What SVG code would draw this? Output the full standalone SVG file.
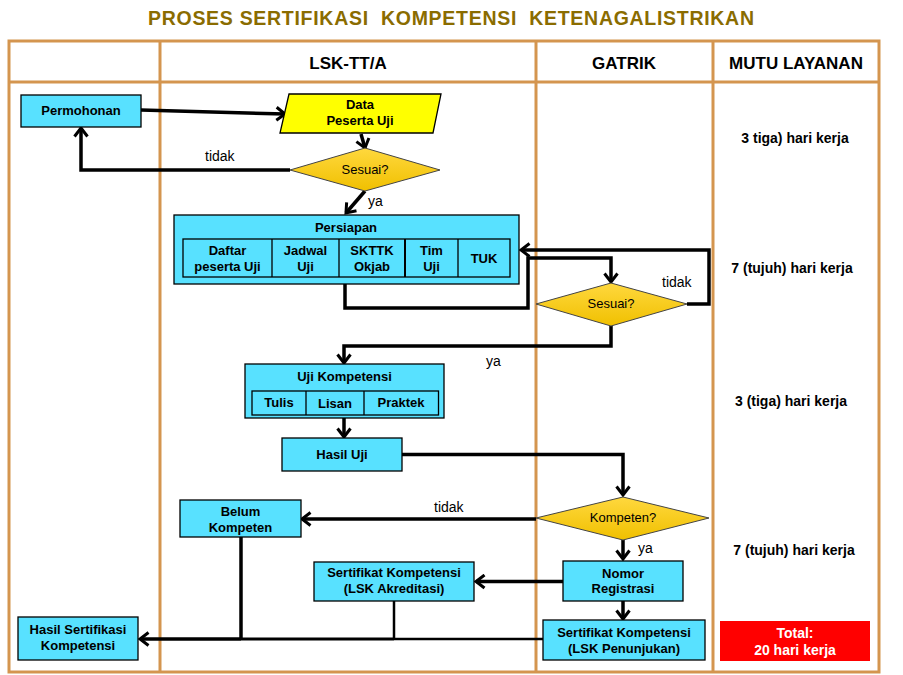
<svg xmlns="http://www.w3.org/2000/svg" width="903" height="675" viewBox="0 0 903 675">
<defs>
<linearGradient id="gold" x1="0" y1="0" x2="0" y2="1"><stop offset="0" stop-color="#FFD83E"/><stop offset="1" stop-color="#F0C000"/></linearGradient>
<marker id="arr" markerUnits="userSpaceOnUse" markerWidth="16" markerHeight="16" viewBox="0 0 16 16" refX="13" refY="8" orient="auto"><path d="M4.5,1.5 L13,8 L4.5,14.5" fill="none" stroke="#000" stroke-width="3"/></marker>
<style>
text{font-family:"Liberation Sans",Arial,sans-serif;fill:#000}
.b{font-weight:bold;font-size:13px;text-anchor:middle}
.box{fill:#58E1FF;stroke:#000;stroke-width:1.3}
.cell{fill:none;stroke:#000;stroke-width:1.3}
.dia{fill:url(#gold);stroke:#444;stroke-width:1}
.lane{fill:none;stroke:#D4954F;stroke-width:3}
.c{fill:none;stroke:#000;stroke-width:3.5}
.ca{fill:none;stroke:#000;stroke-width:3.5;marker-end:url(#arr)}
.lbl{font-size:14px}
.dl{font-size:13px;text-anchor:middle}
.mutu{font-weight:bold;font-size:14px;text-anchor:middle}
.hdr{font-weight:bold;font-size:17px;text-anchor:middle}
</style>
</defs>
<rect width="903" height="675" fill="#fff"/>
<text x="451" y="25" text-anchor="middle" font-weight="bold" font-size="19.5" style="fill:#8A6C00;white-space:pre" xml:space="preserve" textLength="606" lengthAdjust="spacing">PROSES SERTIFIKASI  KOMPETENSI  KETENAGALISTRIKAN</text>
<g id="lanes">
<rect class="lane" x="9" y="41" width="870" height="631"/>
<line class="lane" x1="9" y1="82" x2="879" y2="82"/>
<line class="lane" x1="160" y1="41" x2="160" y2="672"/>
<line class="lane" x1="536" y1="41" x2="536" y2="672"/>
<line class="lane" x1="713" y1="41" x2="713" y2="672"/>
<text class="hdr" x="348" y="69">LSK-TT/A</text>
<text class="hdr" x="624" y="69">GATRIK</text>
<text class="hdr" x="796" y="69">MUTU LAYANAN</text>
</g>
<g id="connectors">
<path class="ca" d="M141,110 L285,114"/>
<path class="ca" d="M361,134 L365,148"/>
<path class="ca" d="M290,170 H81 V128"/>
<path class="ca" d="M365,191 L346,213"/>
<path class="ca" d="M345,284 V308 H528 V258 H611 V282"/>
<path class="ca" d="M687,304 H709 V250 H521"/>
<path class="ca" d="M611,326 V346 H344 V363"/>
<path class="ca" d="M344,418 V437"/>
<path class="ca" d="M402,454.5 H623 V495"/>
<path class="ca" d="M536,519 H302"/>
<path class="ca" d="M623,540 V559"/>
<path class="ca" d="M563,581.5 H476"/>
<path class="ca" d="M623,601 V619"/>
<path class="c" d="M241,537 V639"/>
<path class="c" style="stroke-width:2.5" d="M394,601 V639"/>
<path class="c" style="stroke-width:2.5" d="M543,639 H394"/>
<path class="c" style="stroke-width:3" d="M394,639 H241"/>
<path class="ca" d="M241,639 H140"/>
<text class="lbl" x="205" y="161">tidak</text>
<text class="lbl" x="368" y="206">ya</text>
<text class="lbl" x="662" y="287">tidak</text>
<text class="lbl" x="486" y="366">ya</text>
<text class="lbl" x="434" y="512">tidak</text>
<text class="lbl" x="638" y="553">ya</text>
</g>
<g id="permohonan">
<rect class="box" x="21" y="95" width="120" height="32"/>
<text class="b" x="81" y="115">Permohonan</text>
</g>
<g id="data-peserta">
<polygon points="289,94 441,94 433,133 280,133" fill="#FFFF00" stroke="#000" stroke-width="1.3"/>
<text class="b" x="360" y="109">Data</text>
<text class="b" x="360" y="125">Peserta Uji</text>
</g>
<g id="sesuai1">
<polygon class="dia" points="290,170 365,148 440,170 365,191"/>
<text class="dl" x="365" y="174">Sesuai?</text>
</g>
<g id="persiapan">
<rect class="box" x="174" y="215" width="345" height="69"/>
<text class="b" x="346" y="232">Persiapan</text>
<rect class="cell" x="183" y="239" width="327" height="38"/>
<line class="cell" x1="272" y1="239" x2="272" y2="277"/>
<line class="cell" x1="339" y1="239" x2="339" y2="277"/>
<line class="cell" x1="405" y1="239" x2="405" y2="277" style="stroke-width:2"/>
<line class="cell" x1="458" y1="239" x2="458" y2="277"/>
<text class="b" x="227.5" y="255">Daftar</text>
<text class="b" x="227.5" y="271">peserta Uji</text>
<text class="b" x="305.5" y="255">Jadwal</text>
<text class="b" x="305.5" y="271">Uji</text>
<text class="b" x="372" y="255">SKTTK</text>
<text class="b" x="372" y="271">Okjab</text>
<text class="b" x="431.5" y="255">Tim</text>
<text class="b" x="431.5" y="271">Uji</text>
<text class="b" x="484" y="263">TUK</text>
</g>
<g id="sesuai2">
<polygon class="dia" points="536,304 611,283 687,304 611,326"/>
<text class="dl" x="611" y="308">Sesuai?</text>
</g>
<g id="uji-kompetensi">
<rect class="box" x="245" y="364" width="199" height="54"/>
<text class="b" x="344.5" y="381">Uji Kompetensi</text>
<rect class="cell" x="252" y="391" width="186.5" height="24"/>
<line class="cell" x1="306" y1="391" x2="306" y2="415"/>
<line class="cell" x1="364" y1="391" x2="364" y2="415"/>
<text class="b" x="279" y="407">Tulis</text>
<text class="b" x="335" y="408">Lisan</text>
<text class="b" x="401" y="407">Praktek</text>
</g>
<g id="hasil-uji">
<rect class="box" x="282" y="438" width="120" height="33"/>
<text class="b" x="342" y="459">Hasil Uji</text>
</g>
<g id="kompeten">
<polygon class="dia" points="536,518 623,497 709,518 623,540"/>
<text class="dl" x="623" y="522">Kompeten?</text>
</g>
<g id="belum-kompeten">
<rect class="box" x="180" y="500" width="121" height="37"/>
<text class="b" x="240.5" y="516">Belum</text>
<text class="b" x="240.5" y="532">Kompeten</text>
</g>
<g id="nomor-registrasi">
<rect class="box" x="563" y="561" width="120" height="40"/>
<text class="b" x="623" y="578">Nomor</text>
<text class="b" x="623" y="593">Registrasi</text>
</g>
<g id="sertifikat-akreditasi">
<rect class="box" x="314" y="562" width="160" height="39"/>
<text class="b" x="394" y="577">Sertifikat Kompetensi</text>
<text class="b" x="394" y="593">(LSK Akreditasi)</text>
</g>
<g id="sertifikat-penunjukan">
<rect class="box" x="543" y="620" width="162" height="40"/>
<text class="b" x="624" y="636.5">Sertifikat Kompetensi</text>
<text class="b" x="624" y="652.5">(LSK Penunjukan)</text>
</g>
<g id="hasil-sertifikasi">
<rect class="box" x="18" y="617" width="120" height="43"/>
<text class="b" x="78" y="634">Hasil Sertifikasi</text>
<text class="b" x="78" y="650">Kompetensi</text>
</g>
<g id="mutu-layanan">
<text class="mutu" x="795" y="143">3 tiga) hari kerja</text>
<text class="mutu" x="792" y="273">7 (tujuh) hari kerja</text>
<text class="mutu" x="791" y="406">3 (tiga) hari kerja</text>
<text class="mutu" x="794" y="555">7 (tujuh) hari kerja</text>
<rect x="720" y="621" width="150" height="40" fill="#FF0000"/>
<text class="mutu" x="795" y="638" style="fill:#fff">Total:</text>
<text class="mutu" x="795" y="655" style="fill:#fff">20 hari kerja</text>
</g>
</svg>
